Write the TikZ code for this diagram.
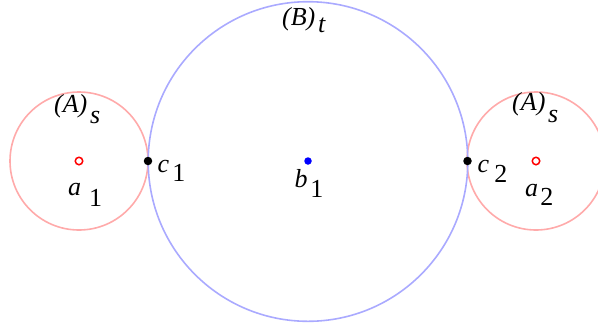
\documentclass[tikz,border=0pt]{standalone}
\usepackage{fontspec}
\setmainfont{Liberation Serif}
\definecolor{pinkc}{RGB}{255,170,170}
\definecolor{bluec}{RGB}{170,170,255}
\newcommand{\lbl}[4]{\textit{#1}\kern#2bp\raisebox{-#3bp}{#4}}
\begin{document}
\begin{tikzpicture}[x=1bp,y=-1bp,
  lab/.style={inner sep=0pt,anchor=base west,font=\fontsize{26bp}{28bp}\selectfont},
  ring/.style={line width=1.6bp},
  blackpt/.style={circle,fill=black,inner sep=0pt,minimum size=8.5bp},
  hollowpt/.style={circle,draw=red,line width=1.5bp,inner sep=0pt,minimum size=7.5bp},
  bluept/.style={circle,fill=blue,inner sep=0pt,minimum size=7.5bp}]
\useasboundingbox (0,0) rectangle (598,326);
\clip (0,0) rectangle (598,326);
\draw[ring,pinkc] (79,161) circle[radius=69];
\draw[ring,pinkc] (536,161) circle[radius=69];
\draw[ring,bluec] (308,161.5) circle[radius=159.8];
\node[hollowpt] (a1) at (79,161) {};
\node[hollowpt] (a2) at (536,161) {};
\node[bluept] (b1) at (308,161) {};
\node[blackpt] (c1) at (148,161) {};
\node[blackpt] (c2) at (467.5,161) {};
\node[lab] (la1) at (68,195) {\lbl{a}{8}{11}{1}};
\node[lab] (la2) at (525,196) {\lbl{a}{2.2}{9}{2}};
\node[lab] (lc1) at (157.5,172) {\lbl{c}{3.1}{9}{1}};
\node[lab] (lc2) at (477.5,172) {\lbl{c}{5.2}{10}{2}};
\node[lab] (lb1) at (294.5,187) {\lbl{b}{2.6}{10}{1}};
\node[lab] (lAl) at (54,112.4) {\lbl{(A)}{2.8}{11}{\textit{s}}};
\node[lab] (lAr) at (512,110.4) {\lbl{(A)}{2.8}{12}{\textit{s}}};
\node[lab] (lB) at (282,25.4) {\lbl{(B)}{2.8}{7.5}{\textit{t}}};
\end{tikzpicture}
\end{document}
